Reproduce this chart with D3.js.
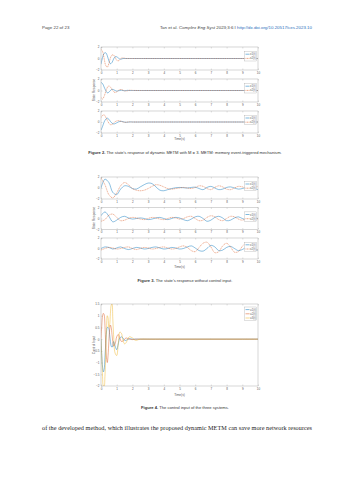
<!DOCTYPE html>
<html>

<head>
	<meta charset="utf-8">
	<script src="https://cdn.jsdelivr.net/npm/d3@7"></script>
	<style>
		body { margin: 0; background: #fff; }
		text { font-family: "Liberation Sans", Arial, sans-serif; }
		.tick text { font-size: 3px; fill: #555; }
		.box { fill: none; stroke: #999; stroke-width: 0.4; }
		.line { fill: none; stroke-width: 0.45; }
		.serif { font-family: "Liberation Serif", "Times New Roman", serif; }
	</style>
</head>

<body>
	<svg></svg>
	<script>
		// Figure 2: dynamic METM, M = 3
		var t2 = [0, 0.1, 0.2, 0.3, 0.4, 0.5, 0.6, 0.7, 0.8, 0.9, 1.0, 1.1, 1.2, 1.3, 1.4, 1.5, 1.6, 1.7, 1.8, 1.9, 2.0, 3, 4, 5, 6, 7, 8, 9, 10];
		var fig2a_x1 = [-1.0, 0.2, 0.9, 1.0, 0.5, -0.4, -0.9, -0.7, -0.1, 0.3, 0.3, 0.1, -0.1, -0.1, 0, 0, 0, 0, 0, 0, 0, 0, 0, 0, 0, 0, 0, 0, 0];
		var fig2a_x2 = [1.6, 1.2, 0.0, -1.2, -1.5, -0.9, 0.1, 0.6, 0.6, 0.2, -0.3, -0.4, -0.2, 0.05, 0.1, 0.05, 0, 0, 0, 0, 0, 0, 0, 0, 0, 0, 0, 0, 0];
		var fig2b_x1 = [1.4, 1.2, 0.6, 0.0, -0.4, -0.3, 0.0, 0.2, 0.15, 0.0, -0.1, -0.05, 0, 0.05, 0, -0.05, 0, 0.03, 0, 0, 0, 0, 0, 0, 0, 0, 0, 0, 0];
		var fig2b_x2 = [-1.2, -1.5, -1.0, -0.2, 0.5, 0.8, 0.6, 0.2, -0.2, -0.35, -0.25, 0.0, 0.15, 0.15, 0.05, -0.05, -0.08, -0.03, 0.03, 0.05, 0.02, 0, 0, 0, 0, 0, 0, 0, 0];
		var fig2c_x1 = [-1.5, -0.8, 0.0, 0.5, 0.7, 0.5, 0.1, -0.2, -0.35, -0.3, -0.15, 0.0, 0.1, 0.12, 0.05, -0.02, -0.05, -0.03, 0.0, 0.02, 0, 0, 0, 0, 0, 0, 0, 0, 0];
		var fig2c_x2 = [0.8, 1.2, 1.3, 0.9, 0.3, -0.2, -0.5, -0.45, -0.2, 0.05, 0.2, 0.25, 0.2, 0.1, 0.0, -0.05, -0.05, 0, 0.02, 0, 0, 0, 0, 0, 0, 0, 0, 0, 0];

		// Figure 3: no control input
		var t3 = [0, 0.25, 0.5, 0.75, 1, 1.25, 1.5, 1.75, 2, 2.25, 2.5, 2.75, 3, 3.25, 3.5, 3.75, 4, 4.25, 4.5, 4.75, 5,
			5.25, 5.5, 5.75, 6, 6.25, 6.5, 6.75, 7, 7.25, 7.5, 7.75, 8, 8.25, 8.5, 8.75, 9, 9.25, 9.5, 9.75, 10];
		var fig3a_x1 = [0.0, 1.6, 1.0, -0.8, -1.2, -0.2, 0.4, 0.3, -0.1, -0.2, 0.2, 0.6, 0.9, 0.8, 0.2, -0.4, -0.5, -0.3, -0.1, 0.05, 0.1, 0.05, 0.0, 0.1, 0.15, -0.1, -0.3, 0.1, 0.3, 0.0, -0.3, -0.2, 0.1, 0.2, 0.0, -0.2, -0.1, 0.1, 0.2, -0.1, -0.3];
		var fig3a_x2 = [1.8, 0.6, -1.2, -1.8, -0.9, 0.4, 1.0, 0.6, -0.1, -0.4, -0.5, -0.4, -0.1, 0.3, 0.6, 0.5, 0.2, -0.1, -0.2, -0.1, 0.0, 0.1, 0.0, -0.1, 0.1, 0.4, 0.3, -0.1, -0.3, 0.1, 0.4, 0.2, -0.2, -0.3, 0.0, 0.3, 0.2, -0.1, -0.2, 0.1, 0.3];
		var fig3b_x1 = [0.5, 1.2, 0.4, -0.6, -0.3, 0.2, 0.4, 0.1, -0.1, 0.0, 0.1, 0.0, -0.2, -0.1, 0.1, 0.2, 0.0, -0.2, 0.0, 0.2, 0.1, -0.2, -0.4, -0.1, 0.3, 0.4, 0.0, -0.5, -0.3, 0.2, 0.4, 0.1, -0.4, -0.3, 0.1, 0.3, 0.0, -0.2, -0.1, 0.1, 0.0];
		var fig3b_x2 = [-0.5, -0.2, 0.6, 0.8, 0.2, -0.4, -0.3, 0.0, 0.2, 0.1, -0.1, -0.2, 0.0, 0.2, 0.1, -0.1, -0.2, 0.0, 0.2, 0.1, -0.1, 0.0, 0.3, 0.4, 0.0, -0.4, -0.3, 0.2, 0.5, 0.3, -0.2, -0.4, 0.0, 0.4, 0.3, -0.1, -0.3, 0.0, 0.2, 0.1, -0.1];
		var fig3c_x1 = [0.0, 0.3, 0.2, -0.1, 0.1, 0.3, 0.0, -0.2, 0.0, 0.2, 0.1, -0.1, 0.0, 0.2, 0.3, 0.1, -0.1, 0.0, 0.2, 0.1, -0.1, 0.0, 0.3, 0.5, 0.1, -0.4, -0.5, 0.0, 0.6, 0.3, -0.4, -0.3, 0.2, 0.4, 0.0, -0.4, -0.2, 0.2, 0.3, -0.2, -0.3];
		var fig3c_x2 = [-0.3, 0.0, 0.2, 0.1, -0.1, 0.0, 0.2, 0.3, 0.0, -0.2, 0.0, 0.2, 0.1, -0.1, 0.0, 0.2, 0.3, 0.1, -0.1, 0.0, 0.3, 0.5, 0.2, -0.4, -0.6, 0.2, 1.0, 1.2, 0.3, -0.8, -0.6, 0.5, 1.0, 0.3, -0.7, -0.6, 0.4, 1.0, 0.4, -0.3, -0.2];

		// Figure 4: control input
		var t4 = [0, 0.05, 0.1, 0.15, 0.2, 0.25, 0.3, 0.35, 0.4, 0.45, 0.5, 0.55, 0.6, 0.65, 0.7, 0.75, 0.8,
			0.9, 1.0, 1.1, 1.2, 1.3, 1.4, 1.5, 1.6, 1.8, 2.0, 2.2, 2.5, 3, 4, 5, 6, 7, 8, 9, 10];
		var u1 = [0, -0.7, -1.2, -1.4, -1.3, -0.8, -0.2, 0.3, 0.5, 0.5, 0.45, 0.2, -0.1, -0.3, -0.35, -0.3, -0.1,
			-0.3, -0.45, -0.2, 0.05, 0.1, 0.05, -0.05, -0.05, 0.02, 0, 0, 0, 0, 0, 0, 0, 0, 0, 0, 0];
		var u2 = [0, 0.6, 1.0, 1.1, 1.05, 0.6, -0.2, -0.8, -1.0, -0.7, -0.1, 0.4, 0.6, 0.5, 0.2, -0.1, -0.3,
			-0.2, 0.1, 0.2, 0.05, -0.1, -0.08, 0.0, 0.05, 0.0, -0.02, 0, 0, 0, 0, 0, 0, 0, 0, 0, 0];
		var u3 = [0, -0.8, -1.6, -2.0, -2.0, -1.6, -0.6, 0.4, 1.0, 0.9, 0.5, 0.6, 1.1, 1.45, 1.5, 0.9, 0.2,
			-0.6, -0.7, -0.2, 0.3, 0.25, -0.05, -0.2, -0.15, 0.1, 0.05, -0.05, 0.0, 0, 0, 0, 0, 0, 0, 0, 0];

		var xTicks = [0, 1, 2, 3, 4, 5, 6, 7, 8, 9, 10];
		var u_ticks = [-2, -1.5, -1, -0.5, 0, 0.5, 1, 1.5];
		var colors = ["#0072BD", "#D95319", "#EDB120"];

		var W = 353, H = 480;
		var left = 101, right = 258;
		var svg = d3.select('svg').attr("width", W).attr("height", H);
		svg.append("rect").attr("width", W).attr("height", H).attr("fill", "#fff");

		var x = d3.scaleLinear().domain([0, 10]).range([left, right]);
		var clipId = 0;

		function panel(top, h, domain, yTicks, series, labels, dashed) {
			var y = d3.scaleLinear().domain(domain).range([top + h, top]);
			var g = svg.append("g");
			clipId++;
			svg.append("clipPath").attr("id", "c" + clipId)
				.append("rect").attr("x", left).attr("y", top).attr("width", right - left).attr("height", h);

			g.append("g").attr("class", "axis")
				.attr("transform", "translate(0," + (top + h) + ")")
				.call(d3.axisBottom(x).tickValues(xTicks).tickSize(-1.5).tickPadding(1.5).tickFormat(d3.format("d")))
				.call(a => a.select(".domain").remove())
				.call(a => a.selectAll("line").attr("stroke", "#999").attr("stroke-width", 0.3));
			g.append("g")
				.attr("transform", "translate(0," + top + ")")
				.call(d3.axisTop(x).tickValues(xTicks).tickSize(-1.5).tickFormat(""))
				.call(a => a.select(".domain").remove())
				.call(a => a.selectAll("line").attr("stroke", "#999").attr("stroke-width", 0.3));
			g.append("g").attr("class", "axis")
				.attr("transform", "translate(" + left + ",0)")
				.call(d3.axisLeft(y).tickValues(yTicks).tickSize(-1.5).tickPadding(1.5).tickFormat(d3.format("~g")))
				.call(a => a.select(".domain").remove())
				.call(a => a.selectAll("line").attr("stroke", "#999").attr("stroke-width", 0.3));

			series.forEach((s, i) => {
				var line = d3.line()
					.curve(d3.curveCatmullRom)
					.x((d, j) => x(s.t[j]))
					.y(d => y(d));
				g.append("path")
					.attr("class", "line")
					.attr("clip-path", "url(#c" + clipId + ")")
					.attr("d", line(s.v))
					.attr("stroke", colors[i])
					.attr("stroke-dasharray", dashed && i == 1 ? "1.2,0.6" : null);
			});

			g.append("rect").attr("class", "box")
				.attr("x", left).attr("y", top).attr("width", right - left).attr("height", h);

			// legend
			var lh = 4.2;
			var lx = right - 13.5, ly = top + (dashed ? h * 0.2 : 3);
			var leg = g.append("g");
			leg.append("rect")
				.attr("x", lx).attr("y", ly).attr("width", 12).attr("height", labels.length * lh + 1)
				.attr("fill", "#fff").attr("stroke", "#999").attr("stroke-width", 0.3);
			labels.forEach((l, i) => {
				var yy = ly + 2.6 + i * lh;
				leg.append("line")
					.attr("x1", lx + 1).attr("x2", lx + 5).attr("y1", yy).attr("y2", yy)
					.attr("stroke", colors[i]).attr("stroke-width", 0.5)
					.attr("stroke-dasharray", dashed && i == 1 ? "1,0.5" : null);
				leg.append("text")
					.attr("x", lx + 5.6).attr("y", yy + 1)
					.attr("font-size", 2.8).attr("fill", "#555")
					.text(l);
			});
		}

		function timeLabel(yy) {
			svg.append("text").attr("x", (left + right) / 2).attr("y", yy)
				.attr("text-anchor", "middle").attr("font-size", 3.2).attr("fill", "#555").text("Time(s)");
		}
		function yLabel(txt, cy) {
			svg.append("text").attr("transform", "translate(95," + cy + ") rotate(-90)")
				.attr("text-anchor", "middle").attr("font-size", 3.2).attr("fill", "#555").text(txt);
		}
		function caption(num, txt, yy) {
			var c = svg.append("text").attr("x", 185).attr("y", yy)
				.attr("text-anchor", "middle").attr("font-size", 4.1).attr("fill", "#333");
			c.append("tspan").attr("font-weight", "bold").text("Figure " + num + ". ");
			c.append("tspan").text(txt);
		}

		// header
		svg.append("text").attr("x", 42).attr("y", 29).attr("font-size", 4.4).attr("fill", "#444").text("Page 22 of 23");
		var hd = svg.append("text").attr("x", 312).attr("y", 29).attr("font-size", 4.4).attr("fill", "#444").attr("text-anchor", "end");
		hd.append("tspan").text("Tan et al. ");
		hd.append("tspan").attr("font-style", "italic").text("Complex Eng Syst");
		hd.append("tspan").text(" 2023;3:6   I   ");
		hd.append("tspan").attr("fill", "#2a6ebb").text("http://dx.doi.org/10.20517/ces.2023.10");

		var sd = [-2, 2], st = [-2, 0, 2];
		var lab = ["x1(t)", "x2(t)"];
		panel(47, 23, sd, st, [{ t: t2, v: fig2a_x1 }, { t: t2, v: fig2a_x2 }], lab, true);
		panel(79, 23, sd, st, [{ t: t2, v: fig2b_x1 }, { t: t2, v: fig2b_x2 }], lab, true);
		panel(111, 22, sd, st, [{ t: t2, v: fig2c_x1 }, { t: t2, v: fig2c_x2 }], lab, true);
		yLabel("State Response", 90);
		timeLabel(140);
		caption(2, "The state's response of dynamic METM with M = 3. METM: memory event-triggered mechanism.", 154);

		panel(177, 22, sd, st, [{ t: t3, v: fig3a_x1 }, { t: t3, v: fig3a_x2 }], lab, true);
		panel(207.5, 22, sd, st, [{ t: t3, v: fig3b_x1 }, { t: t3, v: fig3b_x2 }], lab, true);
		panel(238, 21, sd, st, [{ t: t3, v: fig3c_x1 }, { t: t3, v: fig3c_x2 }], lab, true);
		yLabel("State Response", 218);
		timeLabel(268);
		caption(3, "The state's response without control input.", 282);

		panel(304, 82, [-2, 1.5], u_ticks, [{ t: t4, v: u1 }, { t: t4, v: u2 }, { t: t4, v: u3 }], ["u1(t)", "u2(t)", "u3(t)"], false);
		yLabel("Control Input", 345);
		timeLabel(396);
		caption(4, "The control input of the three systems.", 409);

		// body text
		svg.append("text").attr("class", "serif").attr("x", 42).attr("y", 430)
			.attr("font-size", 6.2).attr("fill", "#222")
			.attr("textLength", 270).attr("lengthAdjust", "spacing")
			.text("of the developed method, which illustrates the proposed dynamic METM can save more network resources");
	</script>
</body>

</html>
